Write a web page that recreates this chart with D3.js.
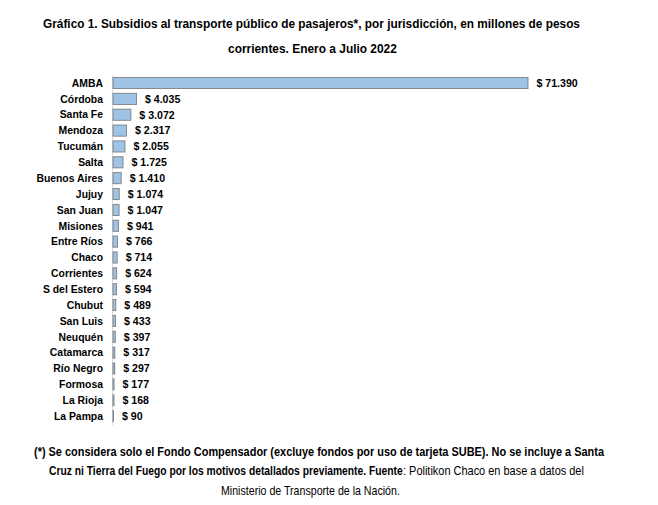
<!DOCTYPE html>
<html>
<head>
<meta charset="utf-8">
<script src="https://cdn.jsdelivr.net/npm/d3@7"></script>
<style>
  body { margin: 0; background: #fff; }
  .narrow { font-family: "Liberation Sans Narrow", "Arial Narrow", "Liberation Sans", Arial, sans-serif; }
  .lbl { font-family: "Liberation Sans", Arial, sans-serif; font-weight: bold; font-size: 10.4px; fill: #000; }
</style>
</head>
<body>
<div id="chart"></div>
<script>
var provincias = ["AMBA", "Córdoba", "Santa Fe", "Mendoza", "Tucumán", "Salta", "Buenos Aires",
  "Jujuy", "San Juan", "Misiones", "Entre Ríos", "Chaco", "Corrientes", "S del Estero",
  "Chubut", "San Luis", "Neuquén", "Catamarca", "Río Negro", "Formosa", "La Rioja", "La Pampa"];

var subsidios = [71390, 4035, 3072, 2317, 2055, 1725, 1410, 1074, 1047, 941, 766, 714, 624, 594,
  489, 433, 397, 317, 297, 177, 168, 90];

var titulo = ["Gráfico 1. Subsidios al transporte público de pasajeros*, por jurisdicción, en millones de pesos",
  "corrientes. Enero a Julio 2022"];

var width = 658, height = 505;
var margin = {top: 72.7, left: 113, right: 130, bottom: 78.6};

var svg = d3.select("#chart").append("svg")
  .attr("width", width)
  .attr("height", height);

// formato argentino: punto como separador de miles
var fmt = d3.formatLocale({decimal: ",", thousands: ".", grouping: [3], currency: ["$ ", ""]}).format("$,.0f");

var x = d3.scaleLinear()
  .domain([0, d3.max(subsidios)])
  .range([margin.left, width - margin.right]);

var y = d3.scaleBand()
  .domain(provincias)
  .range([margin.top, height - margin.bottom])
  .padding(0.3);

// no hay Arial Narrow: cada linea se escala en x hasta el ancho que tiene en el original
var linea = (g, txt, x0, x1, yb, bold) => {
  var t = g.append("text")
    .attr("x", 0).attr("y", 0)
    .style("font-weight", bold ? "bold" : "normal")
    .text(txt);
  var w = t.node().getComputedTextLength();
  t.attr("transform", `translate(${x0},${yb}) scale(${(x1 - x0) / w},1)`);
  return t;
};

var tit = svg.append("g").attr("class", "narrow").style("font-size", "12.8px");
linea(tit, titulo[0], 43, 580, 27.5, true);
linea(tit, titulo[1], 228, 397, 52.5, true);

// linea del eje
svg.append("line")
  .attr("x1", margin.left - 0.5).attr("x2", margin.left - 0.5)
  .attr("y1", 75).attr("y2", 425)
  .attr("stroke", "#d9d9d9")
  .attr("stroke-width", 1);

var datos = provincias.map((p, i) => ({prov: p, val: subsidios[i]}));

svg.append("g").selectAll("rect")
  .data(datos)
  .join("rect")
    .attr("x", x(0))
    .attr("y", d => y(d.prov))
    .attr("width", d => x(d.val) - x(0))
    .attr("height", y.bandwidth())
    .attr("fill", "#9dc3e6")
    .attr("stroke", "#7f7f7f")
    .attr("stroke-width", 0.9);

// nombres de provincias
svg.append("g").selectAll("text")
  .data(datos)
  .join("text")
    .attr("class", "lbl")
    .attr("x", 103)
    .attr("y", d => y(d.prov) + y.bandwidth() / 2)
    .attr("dy", "0.36em")
    .attr("text-anchor", "end")
    .text(d => d.prov);

// valores
svg.append("g").selectAll("text")
  .data(datos)
  .join("text")
    .attr("class", "lbl")
    .style("font-size", "10.6px")
    .attr("x", d => x(d.val) + 8.5)
    .attr("y", d => y(d.prov) + y.bandwidth() / 2)
    .attr("dy", "0.36em")
    .text(d => fmt(d.val));

// nota al pie
var nota = svg.append("g").attr("class", "narrow").style("font-size", "12px");

linea(nota, "(*) Se considera solo el Fondo Compensador (excluye fondos por uso de tarjeta SUBE). No se incluye a Santa", 34, 605, 456, true);
linea(nota, "Cruz ni Tierra del Fuego por los motivos detallados previamente. Fuente", 49, 403, 475, true);
linea(nota, ": Politikon Chaco en base a datos del", 403, 584, 475, false);
linea(nota, "Ministerio de Transporte de la Nación.", 221, 400, 495, false);
</script>
</body>
</html>
